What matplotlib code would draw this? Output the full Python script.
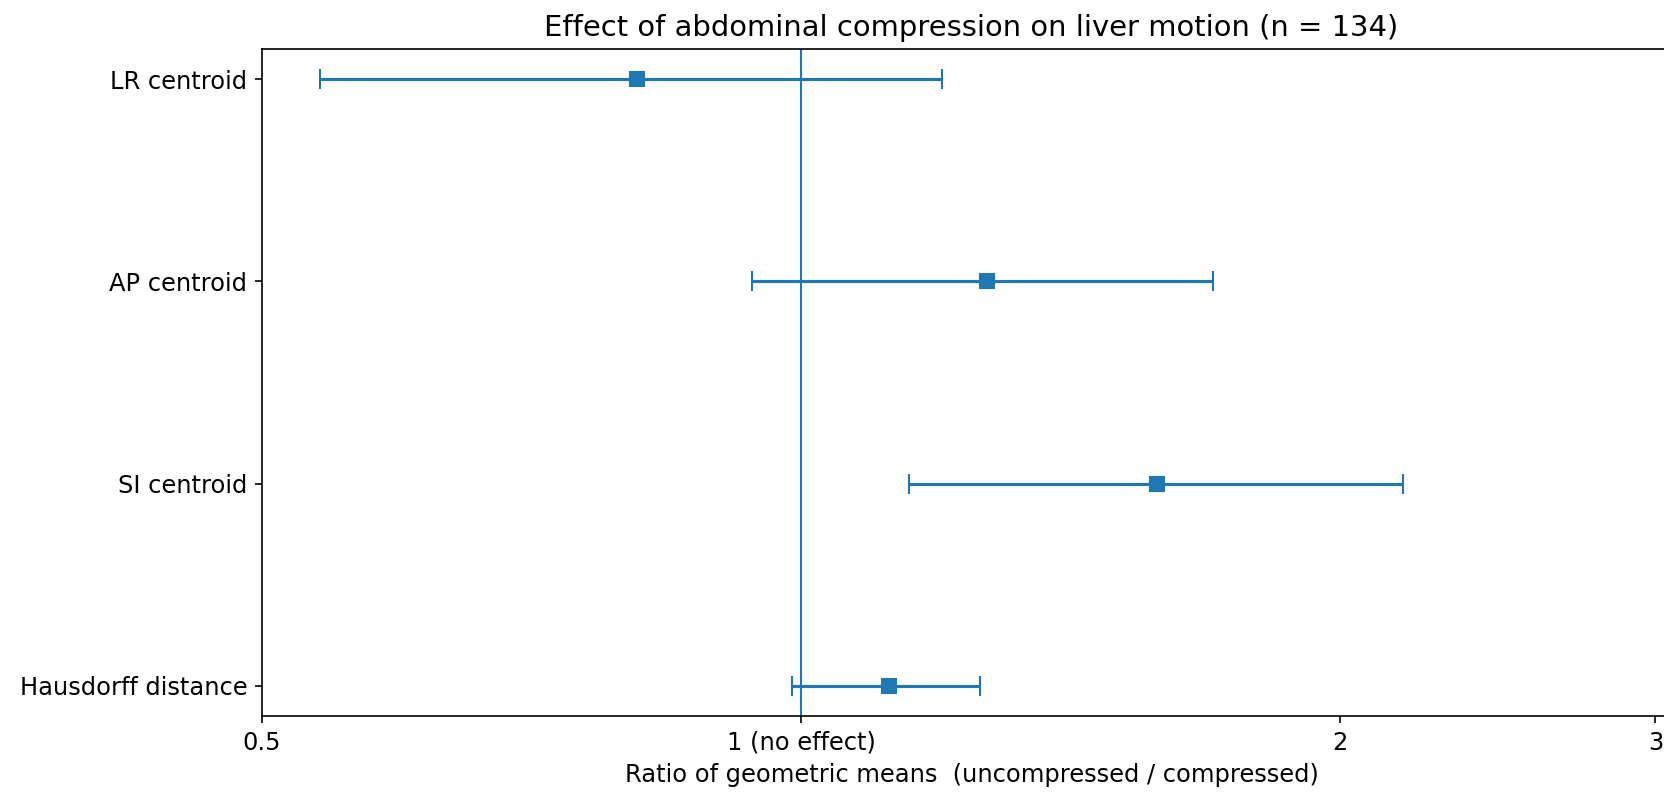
import numpy as np
import matplotlib
matplotlib.use("Agg")
import matplotlib.pyplot as plt
from matplotlib.ticker import NullLocator

# Ratio of geometric means with 95% CI, one row per motion metric
metrics = ["LR centroid", "AP centroid", "SI centroid", "Hausdorff distance"]
ratio   = [0.81, 1.27, 1.58, 1.12]
ci_low  = [0.539, 0.939, 1.149, 0.988]
ci_high = [1.199, 1.698, 2.168, 1.258]

xticks      = [0.5, 1, 2, 3]
xticklabels = ["0.5", "1 (no effect)", "2", "3"]

plt.rcParams["font.size"] = 11.6

W, H, DPI = 1664, 794, 150
fig = plt.figure(figsize=(W / DPI, H / DPI), dpi=DPI)
ax = fig.add_axes([262 / W, 1 - 716 / H, (1681 - 262) / W, (716 - 49) / H])

ratio = np.asarray(ratio)
lo = ratio - np.asarray(ci_low)
hi = np.asarray(ci_high) - ratio
y = np.arange(len(metrics))

ax.errorbar(ratio, y, xerr=[lo, hi], fmt="s", color="C0",
            ms=7, capsize=5, lw=1.5)
ax.axvline(1.0, color="C0", lw=1)

ax.set_xscale("log")
ax.set_xlim(0.5, 3.1)
ax.xaxis.set_minor_locator(NullLocator())
ax.set_xticks(xticks)
ax.set_xticklabels(xticklabels)

ax.set_yticks(y)
ax.set_yticklabels(metrics)
ax.invert_yaxis()

ax.set_xlabel("Ratio of geometric means  (uncompressed / compressed)")
ax.set_title("Effect of abdominal compression on liver motion (n = 134)",
             fontsize=13.9)

fig.savefig("out.png", dpi=DPI)
